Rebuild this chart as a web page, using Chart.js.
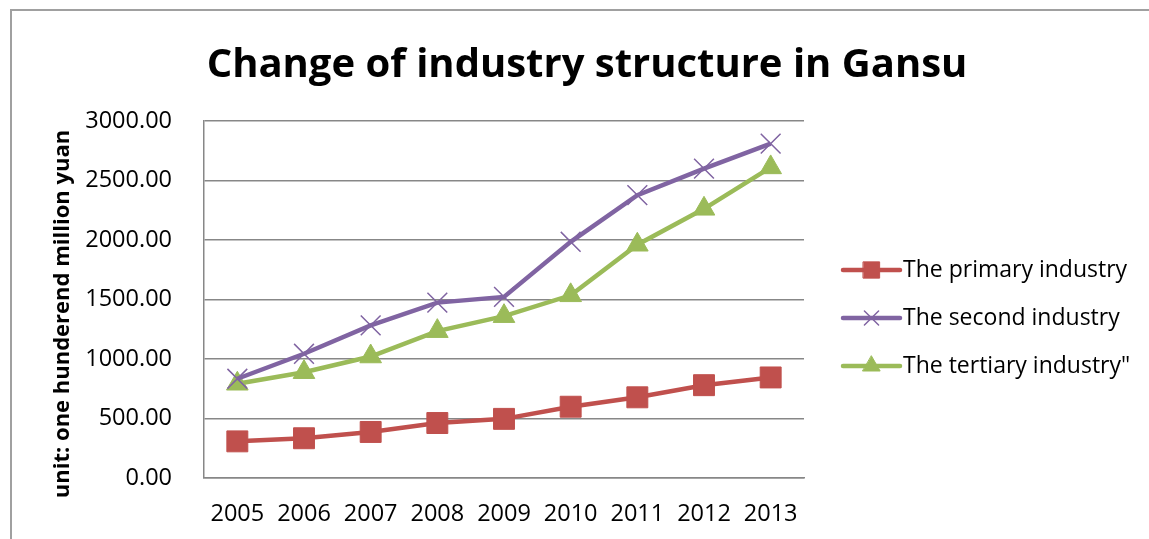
<!DOCTYPE html>
<html>
<head>
<meta charset="utf-8">
<title>Change of industry structure in Gansu</title>
<script src="https://cdn.jsdelivr.net/npm/chart.js@4/dist/chart.umd.min.js"></script>
<style>
  html, body { margin: 0; padding: 0; background: #fff; }
  #frame {
    position: absolute; left: 10px; top: 9px; width: 1160px; height: 560px;
    border-left: 2px solid #a0a0a0; border-top: 2px solid #a0a0a0;
  }
  #wrap { position: absolute; left: 0; top: 0; width: 1149px; height: 539px; }
</style>
</head>
<body>
<div id="frame"></div>
<div id="wrap"><canvas id="industryChart" width="1149" height="539"></canvas></div>
<script>
  // values in hundred million yuan
  let years = ["2005", "2006", "2007", "2008", "2009", "2010", "2011", "2012", "2013"];
  let primary = [308, 334, 387, 462, 497, 599, 678, 780, 845];
  let second = [834, 1044, 1283, 1474, 1522, 1985, 2377, 2600, 2810];
  let tertiary = [792, 889, 1021, 1234, 1360, 1535, 1960, 2262, 2610];
  let yTicks = [0, 500, 1000, 1500, 2000, 2500, 3000];

  let seriesNames = ["The primary industry", "The second industry", "The tertiary industry\""];
  let seriesColors = ["#c0504d", "#8064a2", "#9bbb59"];

  let textFont = "'Open Sans', sans-serif";
  let drawPoint = Chart.helpers.drawPoint;

  function makeSet(name, values, color, style, radius) {
    return {
      label: name,
      data: values,
      borderColor: color,
      backgroundColor: color,
      borderWidth: 4.5,
      pointStyle: style,
      pointRadius: radius,
      pointHoverRadius: radius,
      pointBorderWidth: style == "crossRot" ? 1.5 : 1,
      pointBackgroundColor: color,
      pointBorderColor: color,
      tension: 0
    };
  }

  let chart = new Chart(document.getElementById("industryChart"), {
    type: "line",
    data: {
      labels: years,
      datasets: [
        makeSet(seriesNames[0], primary, seriesColors[0], "rect", 14.8),
        makeSet(seriesNames[1], second, seriesColors[1], "crossRot", 14),
        makeSet(seriesNames[2], tertiary, seriesColors[2], "triangle", 12.5)
      ]
    },
    options: {
      responsive: false,
      animation: false,
      events: [],
      layout: { padding: { top: 121, left: 50, right: 345, bottom: 10 } },
      plugins: {
        legend: { display: false },
        tooltip: { enabled: false },
        title: { display: false }
      },
      scales: {
        x: {
          offset: true,
          afterFit(scale) { scale.height = 51; },
          grid: { display: false, drawTicks: false },
          border: { display: true, color: "#878787", width: 1.5 },
          ticks: { color: "#000", font: { family: textFont, size: 23.5 }, padding: 22, maxRotation: 0 }
        },
        y: {
          min: 0,
          max: 3000,
          afterBuildTicks(scale) {
            scale.ticks = yTicks.map(function (v) { return { value: v }; });
          },
          afterFit(scale) { scale.width = 154; },
          grid: { color: "#878787", lineWidth: 1.5, drawTicks: false },
          border: { display: true, color: "#878787", width: 1.5 },
          ticks: {
            color: "#000",
            font: { family: textFont, size: 23.5 },
            padding: 32,
            callback: function (v) { return Number(v).toFixed(2); }
          }
        }
      }
    },
    plugins: [{
      id: "titles",
      afterDraw(chart) {
        let ctx = chart.ctx;
        ctx.save();
        ctx.fillStyle = "#000";
        ctx.font = "bold 40px " + textFont;
        ctx.textAlign = "center";
        ctx.textBaseline = "alphabetic";
        ctx.fillText("Change of industry structure in Gansu", 587, 77);

        // vertical unit label beside the value axis
        ctx.translate(63, 314);
        ctx.rotate(-Math.PI / 2);
        ctx.font = "bold 22px " + textFont;
        ctx.textBaseline = "middle";
        ctx.fillText("unit: one hunderend million yuan", 0, 0);
        ctx.restore();
      }
    }, {
      id: "lineLegend",
      afterDraw(chart) {
        let ctx = chart.ctx;
        let x0 = 843, x1 = 900;
        let rows = [270, 318, 366];
        chart.data.datasets.forEach(function (ds, i) {
          let y = rows[i];
          ctx.save();
          ctx.strokeStyle = ds.borderColor;
          ctx.fillStyle = ds.borderColor;
          ctx.lineWidth = ds.borderWidth;
          ctx.lineCap = "round";
          ctx.beginPath();
          ctx.moveTo(x0, y);
          ctx.lineTo(x1, y);
          ctx.stroke();
          ctx.lineWidth = ds.pointBorderWidth;
          let r = ds.pointStyle == "rect" ? 11.5 : 10;
          drawPoint(ctx, { pointStyle: ds.pointStyle, radius: r, borderWidth: ds.pointBorderWidth },
            (x0 + x1) / 2, y);
          ctx.fillStyle = "#000";
          ctx.font = "23px " + textFont;
          ctx.textBaseline = "middle";
          ctx.textAlign = "left";
          ctx.fillText(ds.label, x1 + 3, y);
          ctx.restore();
        });
      }
    }]
  });
</script>
</body>
</html>
